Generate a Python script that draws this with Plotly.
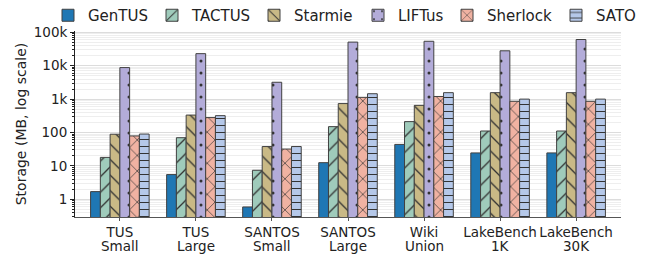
import plotly.graph_objects as go

cat_line1 = ["TUS", "TUS", "SANTOS", "SANTOS", "Wiki", "LakeBench", "LakeBench"]
cat_line2 = ["Small", "Large", "Small", "Large", "Union", "1K", "30K"]
categories = [a + " " + b for a, b in zip(cat_line1, cat_line2)]
methods = ["GenTUS", "TACTUS", "Starmie", "LIFTus", "Sherlock", "SATO"]

gentus = [1.7, 5.5, 0.59, 12.5, 44, 24.5, 24.5]
tactus = [18, 70, 7.4, 150, 212, 111, 111]
starmie = [89, 333, 38, 735, 650, 1560, 1560]
liftus = [8800, 23000, 3200, 51000, 54000, 28000, 61000]
sherlock = [79, 280, 32, 1130, 1200, 860, 860]
sato = [90, 320, 38, 1450, 1560, 1000, 1000]

ytick_vals = [1, 10, 100, 1000, 10000, 100000]
ytick_text = ["1", "10", "100", "1k", "10k", "100k"]

series = [gentus, tactus, starmie, liftus, sherlock, sato]
colors = ["#1f77b4", "#9fcbbb", "#c9b986", "#b3acd9", "#f0b2a2", "#b5c8e9"]
shapes = ["", "/", "\\", ".", "x", "-"]
sizes = [8, 11, 11, 12, 11, 7]
solid = [0.2, 0.12, 0.12, 0.05, 0.12, 0.15]

# legend text start positions (px) of each entry
legend_px = [90, 194, 296, 400, 489, 598]
W, H = 651, 255

minor_vals = [m * 10 ** e for e in range(-1, 5) for m in range(2, 10)]

fig = go.Figure()
for i, (name, vals, c, sh, sz, so) in enumerate(zip(methods, series, colors, shapes, sizes, solid)):
    lg = "legend" if i == 0 else f"legend{i + 1}"
    fig.add_trace(go.Bar(
        name=name, x=categories, y=vals, legend=lg,
        marker=dict(color=c, line=dict(color="#404040", width=1),
                    pattern=dict(shape=sh, fgcolor="#333333", bgcolor=c,
                                 size=sz, solidity=so, fillmode="replace")),
    ))
    fig.update_layout({lg: dict(
        orientation="h", x=(legend_px[i] - 42) / W, xanchor="left", xref="container",
        y=1 - 15.5 / H, yanchor="middle", yref="container",
        font=dict(size=15), itemwidth=30, bgcolor="rgba(0,0,0,0)")})

# second line of each category label
for cat, txt in zip(categories, cat_line2):
    fig.add_annotation(x=cat, xref="x", y=0, yref="paper", text=txt,
                       showarrow=False, yanchor="middle", yshift=-28.5,
                       font=dict(size=13.5, color="#222"))

fig.update_layout(
    width=W, height=H,
    margin=dict(l=75, r=30, t=31, b=38, autoexpand=False),
    barmode="group", bargap=0.23, bargroupgap=0,
    plot_bgcolor="white", paper_bgcolor="white",
    font=dict(family="DejaVu Sans", size=13.5, color="#222"),
    showlegend=True,
)
fig.update_layout(
    xaxis=dict(
        range=[-0.59, 6.59], showline=True, linecolor="#555", linewidth=1,
        ticks="outside", ticklen=3, tickcolor="#555", showgrid=False,
        tickmode="array", tickvals=categories, ticktext=cat_line1,
        tickfont=dict(size=13.5), automargin=False,
    ),
)
fig.update_yaxes(
    type="log", range=[-0.53, 5.04],
    tickvals=ytick_vals, ticktext=ytick_text,
    showline=True, linecolor="#222", linewidth=1,
    ticks="outside", ticklen=4, tickcolor="#222",
    showgrid=True, gridcolor="#dcdcdc", gridwidth=1,
    minor=dict(tickvals=minor_vals, showgrid=True, gridcolor="#eeeeee",
               ticks="outside", ticklen=2, tickcolor="#222"),
    title=dict(text="Storage (MB, log scale)", font=dict(size=14), standoff=3),
    zeroline=False, automargin=False,
)

fig.write_html("out.html", config={"displayModeBar": False},
               post_script="document.body.style.margin='0';")
